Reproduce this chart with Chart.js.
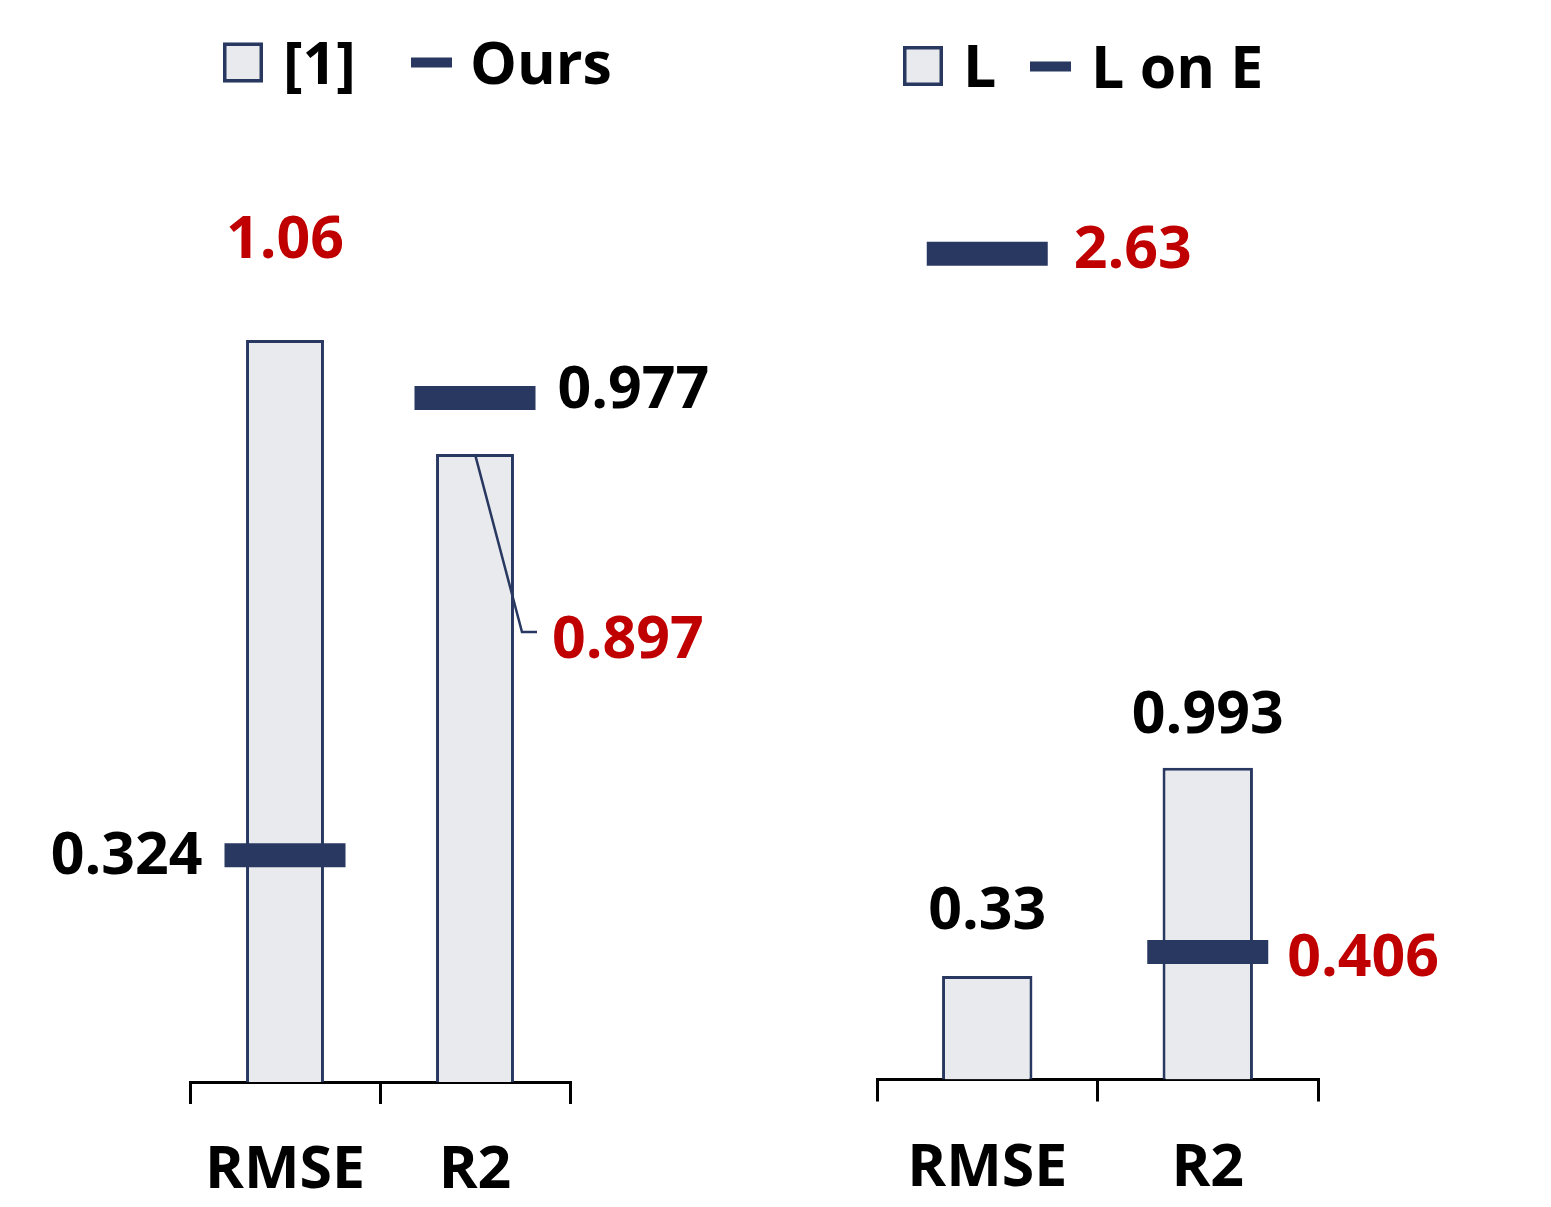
<!DOCTYPE html>
<html>
<head>
<meta charset="utf-8">
<script src="https://cdn.jsdelivr.net/npm/chart.js@4.4.1/dist/chart.umd.min.js"></script>
<style>
  html, body { margin: 0; padding: 0; background: #ffffff; }
  #wrap { position: relative; width: 1551px; height: 1207px; overflow: hidden; }
  .panel { position: absolute; top: 0; }
  #p1 { left: 0; }
  #p2 { left: 760px; }
</style>
</head>
<body>
<div id="wrap">
  <div class="panel" id="p1"><canvas id="c1" width="760" height="1207"></canvas></div>
  <div class="panel" id="p2"><canvas id="c2" width="791" height="1207"></canvas></div>
</div>
<script>
// ---- data ----
const categories = ['RMSE', 'R2'];

const leftBarLabel = '[1]';
const leftBarValues = [1.06, 0.897];
const leftMarkLabel = 'Ours';
const leftMarkValues = [0.324, 0.977];

const rightBarLabel = 'L';
const rightBarValues = [0.33, 0.993];
const rightMarkLabel = 'L on E';
const rightMarkValues = [2.63, 0.406];

// ---- styling ----
const NAVY = '#283860';
const FILL = '#E9EAEE';
const RED = '#C00000';
const BLACK = '#000000';
const FONT = '"Open Sans", "DejaVu Sans", sans-serif';
const FONT_SIZE = 59;
const CAP = 0.714; // cap-height ratio of Open Sans

Chart.defaults.font.family = FONT;

function capText(ctx, text, x, cy, align, color) {
  ctx.save();
  ctx.font = 'bold ' + FONT_SIZE + 'px ' + FONT;
  ctx.fillStyle = color;
  ctx.textAlign = align;
  ctx.textBaseline = 'alphabetic';
  ctx.fillText(text, x, cy + FONT_SIZE * CAP / 2);
  ctx.restore();
}

// Legend row and value labels drawn on top of the plot
const panelDecor = {
  id: 'panelDecor',
  afterDraw(chart, args, opts) {
    const ctx = chart.ctx;
    const ds = chart.data.datasets;

    // legend
    (opts.legend || []).forEach(item => {
      const d = ds[item.dataset];
      ctx.save();
      if (d.type === 'bar') {
        ctx.fillStyle = d.backgroundColor;
        ctx.fillRect(item.x, item.cy - 20, 40, 40);
        ctx.strokeStyle = d.borderColor;
        ctx.lineWidth = 3.5;
        ctx.strokeRect(item.x + 1.75, item.cy - 18.25, 36.5, 36.5);
      } else {
        ctx.fillStyle = d.pointBorderColor;
        ctx.fillRect(item.x, item.cy - 5, 41, 10);
      }
      ctx.restore();
      capText(ctx, d.label, item.tx, item.cy, 'left', BLACK);
    });

    // value labels
    (opts.labels || []).forEach(spec => {
      const meta = chart.getDatasetMeta(spec.dataset);
      const d = ds[spec.dataset];
      const el = meta.data[spec.index];
      const text = String(d.data[spec.index]);
      const r = d.pointRadius || 0;
      if (spec.mode === 'above') {
        capText(ctx, text, el.x, el.y + spec.dy, 'center', spec.color);
      } else if (spec.mode === 'left') {
        capText(ctx, text, el.x - r - spec.gap, el.y + spec.dy, 'right', spec.color);
      } else if (spec.mode === 'right') {
        capText(ctx, text, el.x + r + spec.gap, el.y + spec.dy, 'left', spec.color);
      } else if (spec.mode === 'leader') {
        const ex = el.x + spec.ex, ey = el.y + spec.ey;
        ctx.save();
        ctx.strokeStyle = NAVY;
        ctx.lineWidth = 2.5;
        ctx.beginPath();
        ctx.moveTo(el.x, el.y);
        ctx.lineTo(ex, ey);
        ctx.lineTo(ex + 15, ey);
        ctx.stroke();
        ctx.restore();
        capText(ctx, text, ex + 30, ey + spec.dy, 'left', spec.color);
      }
    });
  }
};

function panelData(barLabel, barValues, markLabel, markValues) {
  return {
    labels: categories,
    datasets: [
      {
        type: 'line', label: markLabel, data: markValues, order: 0,
        showLine: false, pointStyle: 'line',
        pointRadius: 60.5, pointHoverRadius: 60.5,
        pointBorderWidth: 24, pointHoverBorderWidth: 24,
        pointBorderColor: NAVY, pointBackgroundColor: NAVY,
        borderColor: NAVY, backgroundColor: NAVY
      },
      {
        type: 'bar', label: barLabel, data: barValues, order: 1,
        backgroundColor: FILL, borderColor: NAVY, borderWidth: 3,
        barPercentage: 0.41, categoryPercentage: 1
      }
    ]
  };
}

function panelOptions(pad, axisHeight, yMax, decor) {
  return {
    responsive: false,
    animation: false,
    events: [],
    layout: { padding: pad },
    plugins: {
      legend: { display: false },
      tooltip: { enabled: false },
      panelDecor: decor
    },
    scales: {
      x: {
        offset: true,
        grid: {
          display: true, offset: true, drawOnChartArea: false, drawTicks: true,
          tickLength: 22, color: BLACK, lineWidth: 3
        },
        border: { display: true, color: BLACK, width: 3 },
        ticks: { color: BLACK, font: { size: FONT_SIZE, weight: 'bold' }, padding: 32 },
        afterFit(scale) { scale.height = axisHeight; }
      },
      y: { display: false, min: 0, max: yMax }
    }
  };
}

new Chart(document.getElementById('c1'), {
  type: 'bar',
  data: panelData(leftBarLabel, leftBarValues, leftMarkLabel, leftMarkValues),
  options: panelOptions({ left: 190, right: 190, top: 102, bottom: 0 }, 125, 1.4, {
    legend: [
      { dataset: 1, x: 223, cy: 62.5, tx: 283 },
      { dataset: 0, x: 411, cy: 62.5, tx: 470 }
    ],
    labels: [
      { dataset: 1, index: 0, mode: 'above', dy: -103, color: RED },
      { dataset: 1, index: 1, mode: 'leader', ex: 47, ey: 178, dy: 5, color: RED },
      { dataset: 0, index: 0, mode: 'left', gap: 22, dy: -2, color: BLACK },
      { dataset: 0, index: 1, mode: 'right', gap: 22, dy: -11.5, color: BLACK }
    ]
  }),
  plugins: [panelDecor]
});

new Chart(document.getElementById('c2'), {
  type: 'bar',
  data: panelData(rightBarLabel, rightBarValues, rightMarkLabel, rightMarkValues),
  options: panelOptions({ left: 117, right: 233, top: 106.1, bottom: 0 }, 127.5, 3.1, {
    legend: [
      { dataset: 1, x: 143, cy: 66, tx: 203 },
      { dataset: 0, x: 270, cy: 66.5, tx: 331 }
    ],
    labels: [
      { dataset: 0, index: 0, mode: 'right', gap: 26, dy: -7, color: RED },
      { dataset: 1, index: 0, mode: 'above', dy: -68, color: BLACK },
      { dataset: 1, index: 1, mode: 'above', dy: -55.5, color: BLACK },
      { dataset: 0, index: 1, mode: 'right', gap: 19, dy: 2.5, color: RED }
    ]
  }),
  plugins: [panelDecor]
});
</script>
</body>
</html>
